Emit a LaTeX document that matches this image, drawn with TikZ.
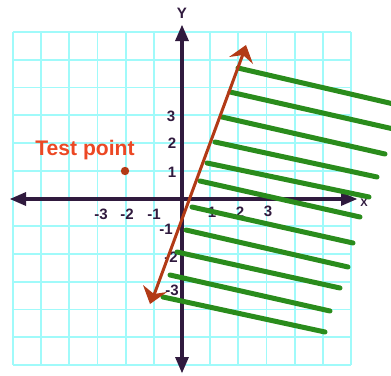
\documentclass[tikz,border=0pt]{standalone}
\usepackage{fontspec}
\setmainfont{Liberation Sans}
\definecolor{gridcyan}{RGB}{160,250,250}
\definecolor{axispurple}{RGB}{48,26,62}
\definecolor{shadegreen}{RGB}{42,140,28}
\definecolor{linebrown}{RGB}{178,58,22}
\definecolor{testorange}{RGB}{236,72,36}

\begin{document}
\begin{tikzpicture}[scale=0.035]
				\tikzstyle{every node}+=[inner sep=0pt, text=axispurple, font=\bfseries\fontsize{15}{15}\selectfont]
				\useasboundingbox (0,0) rectangle (391,-375);
				% grid
				\foreach \i in {0,...,12} {
					\draw [gridcyan, line width=1.8pt] ({13+28.17*\i},-32) -- ({13+28.17*\i},-365);
					\draw [gridcyan, line width=1.8pt] (13,{-32-27.75*\i}) -- (351,{-32-27.75*\i});
				}
				% axes
				\draw [axispurple, line width=3.2pt] (20,-199) -- (348,-199);
				\fill [axispurple] (10,-199) -- (26,-192) -- (26,-206);
				\fill [axispurple] (357,-199) -- (341,-192) -- (341,-206);
				\draw [axispurple, line width=3.2pt] (182,-33) -- (182,-365);
				\fill [axispurple] (182,-25) -- (175,-41) -- (189,-41);
				\fill [axispurple] (182,-373) -- (175,-357) -- (189,-357);
				\node (ylbl) at (182,-13) {Y};
				\node (xlbl) at (364,-203) {\fontsize{11}{11}\selectfont X};
				% ticks
				\node (xm3) at (101,-214) {-3};
				\node (xm2) at (127,-214) {-2};
				\node (xm1) at (154,-214) {-1};
				\node (xp1) at (212,-212) {1};
				\node (xp2) at (240,-212) {2};
				\node (xp3) at (268,-211) {3};
				\node (yp3) at (171,-116) {3};
				\node (yp2) at (172,-143) {2};
				\node (yp1) at (172,-172) {1};
				\node (ym1) at (166,-229) {-1};
				\node (ym2) at (171,-257) {-2};
				\node (ym3) at (172,-290) {-3};
				% shading
				\draw [shadegreen, line width=5pt, line cap=round] (238,-68) -- (398,-105);
				\draw [shadegreen, line width=5pt, line cap=round] (230,-92) -- (398,-130);
				\draw [shadegreen, line width=5pt, line cap=round] (222,-117) -- (385,-154);
				\draw [shadegreen, line width=5pt, line cap=round] (215,-142) -- (377,-177);
				\draw [shadegreen, line width=5pt, line cap=round] (207,-163) -- (369,-197);
				\draw [shadegreen, line width=5pt, line cap=round] (200,-181) -- (360,-217);
				\draw [shadegreen, line width=5pt, line cap=round] (192,-207) -- (353,-243);
				\draw [shadegreen, line width=5pt, line cap=round] (186,-230) -- (348,-267);
				\draw [shadegreen, line width=5pt, line cap=round] (177,-252) -- (340,-288);
				\draw [shadegreen, line width=5pt, line cap=round] (170,-275) -- (330,-311);
				\draw [shadegreen, line width=5pt, line cap=round] (163,-297) -- (325,-332);
				% boundary line
				\draw [linebrown, line width=3pt] (154,-295) -- (243,-54);
				\fill [linebrown] (246,-45) -- (253,-64) -- (243,-55) -- (229,-57) -- cycle;
				\fill [linebrown] (150,-304) -- (143,-285) -- (154,-294) -- (167,-292) -- cycle;
				% test point
				\fill [linebrown] (125,-171) circle (4.2);
				\node (testlbl) at (85,-150) {\textcolor{testorange}{\fontsize{21}{21}\selectfont Test point}};
				\end{tikzpicture}
\end{document}
